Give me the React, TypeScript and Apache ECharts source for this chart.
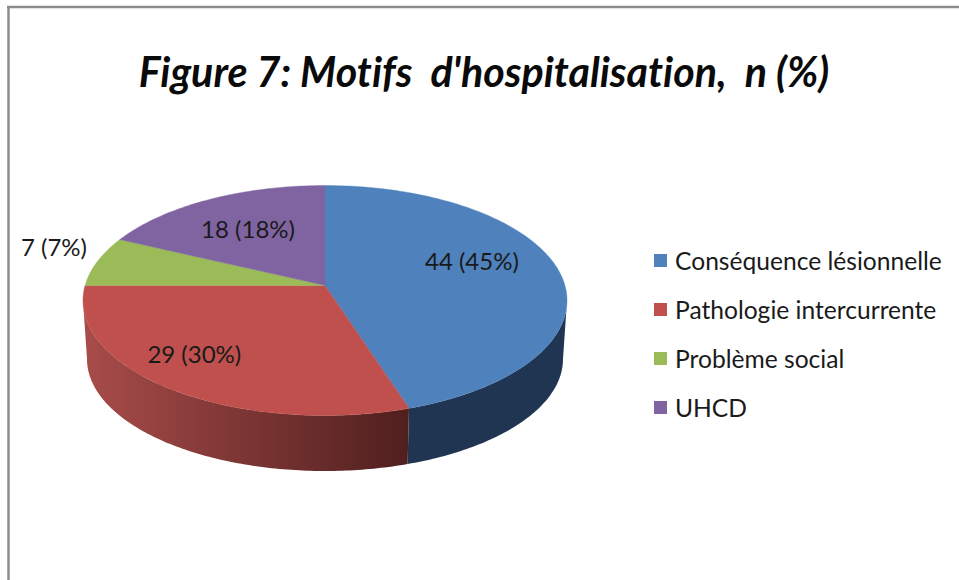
import React, { useEffect, useRef } from "react";
import * as echarts from "echarts";

const categories = ["Conséquence lésionnelle", "Pathologie intercurrente", "Problème social", "UHCD"];
const counts = [44, 29, 7, 18];
const percents = [45, 30, 7, 18];
const titleText = "Figure 7: Motifs  d'hospitalisation,  n (%)";

const topColors = ["#4f81bd", "#c0504d", "#9bbb59", "#8064a2"];
const wallColors = [["#1f3552", "#1f3552"], ["#a84c4a", "#4f1f1e"], ["#5d7035", "#5d7035"], ["#4c3c61", "#4c3c61"]];
const labelSpots = [[0.607, -0.215], [-0.54, 0.595], [-1.12, -0.335], [-0.318, -0.5]];

const FONT = "Lato, Carlito, sans-serif";
const CX = 325, CY_TOP = 300.5, RX = 242, RY = 115, APEX_Y = 285.5;
const CY_BOTTOM = 359, RX_BOTTOM = 238, RY_BOTTOM = 112;

const phiOf = (pct: number) => {
  const th = (pct / 100) * 2 * Math.PI;
  const a = (CY_TOP - APEX_Y) / RY;
  const c = Math.cos(th), s0 = Math.sin(th);
  const s = -a * c + Math.sqrt(a * a * c * c + 1 - a * a);
  const x = s * s0, y = -a - s * c;
  let phi = Math.atan2(x, -y);
  if (phi < -1e-9) phi += 2 * Math.PI;
  return phi;
};

const arc = (from: number, to: number, cy: number, rx: number, ry: number) => {
  const n = Math.max(2, Math.ceil(Math.abs(to - from) * 60));
  const pts: number[][] = [];
  for (let i = 0; i <= n; i++) {
    const p = from + ((to - from) * i) / n;
    pts.push([CX + rx * Math.sin(p), cy - ry * Math.cos(p)]);
  }
  return pts;
};

const makeRender = (idx: number) => (_: any, api: any) => {
  const start = api.value(1) as number;
  const pct = api.value(2) as number;
  const count = api.value(0) as number;
  const p1 = phiOf(start);
  const p2 = start + pct >= 100 ? 2 * Math.PI : phiOf(start + pct);
  const children: any[] = [];
  const w1 = Math.max(p1, Math.PI / 2), w2 = Math.min(p2, (3 * Math.PI) / 2);
  if (w2 > w1) {
    children.push({
      type: "polygon",
      shape: { points: [...arc(w1, w2, CY_TOP, RX, RY), ...arc(w2, w1, CY_BOTTOM, RX_BOTTOM, RY_BOTTOM)] },
      style: {
        fill: new echarts.graphic.LinearGradient(0, 0, 1, 0, [
          { offset: 0, color: wallColors[idx][0] },
          { offset: 1, color: wallColors[idx][1] },
        ]),
        stroke: null,
      },
      z2: 1,
    });
  }
  children.push({
    type: "polygon",
    shape: { points: [[CX, APEX_Y], ...arc(p1, p2, CY_TOP, RX, RY)] },
    style: { fill: topColors[idx], stroke: topColors[idx], lineWidth: 0.4 },
    z2: 2,
  });
  children.push({
    type: "text",
    x: CX + labelSpots[idx][0] * RX,
    y: APEX_Y + labelSpots[idx][1] * RY,
    style: {
      text: `${count} (${pct}%)`,
      font: `24px ${FONT}`,
      fill: "#1a1a1a",
      align: "center",
      verticalAlign: "middle",
    },
    z2: 3,
  });
  return { type: "group", children };
};

export default function App() {
  const ref = useRef<HTMLDivElement>(null);
  useEffect(() => {
    const chart = echarts.init(ref.current!, null, { renderer: "svg" });
    let cum = 0;
    const series = categories.map((name, i) => {
      const start = cum;
      cum += percents[i];
      return {
        type: "custom",
        name,
        coordinateSystem: "none",
        itemStyle: { color: topColors[i] },
        data: [[counts[i], start, percents[i]]],
        renderItem: makeRender(i),
        silent: true,
      };
    });
    chart.setOption({
      animation: false,
      backgroundColor: "#ffffff",
      title: {
        text: titleText,
        left: 479,
        top: 45,
        textAlign: "center",
        textStyle: { fontFamily: FONT, fontSize: 41.2, fontWeight: "bold", fontStyle: "italic", color: "#0a0a0a" },
      },
      legend: {
        orient: "vertical",
        left: 654,
        top: 248,
        padding: 0,
        icon: "rect",
        itemWidth: 13,
        itemHeight: 13,
        itemGap: 24,
        selectedMode: false,
        textStyle: { fontFamily: FONT, fontSize: 24.6, color: "#1a1a1a", padding: [0, 0, 0, 3] },
        data: categories,
      },
      graphic: [
        { type: "line", shape: { x1: 8.5, y1: 7, x2: 8.5, y2: 580 }, style: { stroke: "#8c8c8c", lineWidth: 2.5 } },
        { type: "line", shape: { x1: 7, y1: 7, x2: 959, y2: 7 }, style: { stroke: "#8c8c8c", lineWidth: 2.5 } },
      ],
      series,
    });
    return () => chart.dispose();
  }, []);
  return <div ref={ref} style={{ position: "absolute", left: 0, top: 0, width: 959, height: 580, fontVariantLigatures: "none" }} />;
}
